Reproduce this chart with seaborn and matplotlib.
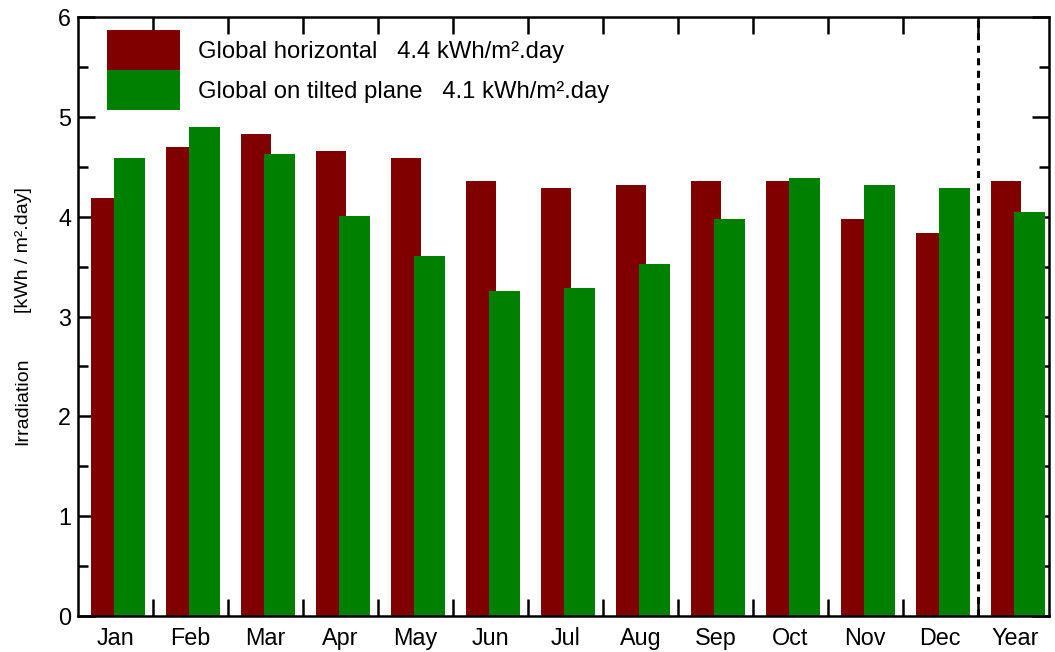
import numpy as np
import matplotlib
matplotlib.use("Agg")
import matplotlib.pyplot as plt
import seaborn as sns
from matplotlib.ticker import MultipleLocator, FixedLocator

# monthly irradiation values, kWh/m².day
months = ["Jan", "Feb", "Mar", "Apr", "May", "Jun", "Jul", "Aug",
          "Sep", "Oct", "Nov", "Dec", "Year"]
global_horizontal = [4.19, 4.70, 4.83, 4.66, 4.59, 4.36, 4.29, 4.32,
                     4.36, 4.36, 3.98, 3.84, 4.36]
global_tilted = [4.59, 4.90, 4.63, 4.01, 3.61, 3.26, 3.29, 3.53,
                 3.98, 4.39, 4.32, 4.29, 4.05]
legend_labels = ["Global horizontal   4.4 kWh/m².day",
                 "Global on tilted plane   4.1 kWh/m².day"]

red = "#800000"
green = "#008000"

sns.set_style("ticks")
plt.rcParams["font.family"] = ["Liberation Sans", "DejaVu Sans"]
plt.rcParams["text.color"] = "black"
plt.rcParams["xtick.color"] = "black"
plt.rcParams["ytick.color"] = "black"

fig = plt.figure(figsize=(10.55, 6.52), dpi=100)
ax = fig.add_axes([0.0739, 0.0552, 0.9204, 0.9187])

idx = np.arange(len(months))
sns.barplot(x=idx - 0.125, y=global_horizontal, native_scale=True,
            width=0.41, color=red, saturation=1, errorbar=None,
            linewidth=0, label=legend_labels[0], ax=ax)
sns.barplot(x=idx + 0.19, y=global_tilted, native_scale=True,
            width=0.41, color=green, saturation=1, errorbar=None,
            linewidth=0, label=legend_labels[1], ax=ax)

# separator between months and the yearly value
ax.axvline(11.5, color="black", lw=2.2, ls=(0, (2.3, 1.8)))

ax.set_xlim(-0.5, 12.45)
ax.set_ylim(0, 6)

ax.xaxis.set_major_locator(FixedLocator(idx))
ax.set_xticklabels(months)
ax.xaxis.set_minor_locator(FixedLocator(idx[:-1] + 0.5))
ax.yaxis.set_major_locator(MultipleLocator(1))
ax.yaxis.set_minor_locator(MultipleLocator(0.5))

ax.tick_params(axis="x", which="major", length=0, pad=8, labelsize=16.8)
ax.tick_params(axis="x", which="minor", direction="in", length=12.5,
               width=1.8, top=True, bottom=True)
ax.tick_params(axis="y", which="major", direction="in", length=12.5,
               width=1.8, left=True, right=True, pad=5, labelsize=16.8)
ax.tick_params(axis="y", which="minor", direction="in", length=7,
               width=1.8, left=True, right=True)

for s in ax.spines.values():
    s.set_visible(True)
    s.set_linewidth(1.8)
    s.set_color("black")

ax.set_xlabel("")
ax.set_ylabel("")
fig.text(0.022, (652 - 401) / 652, "Irradiation", rotation=90,
         ha="center", va="center", fontsize=14)
fig.text(0.022, (652 - 250) / 652, "[kWh / m².day]", rotation=90,
         ha="center", va="center", fontsize=14)

ax.legend(loc="upper left", bbox_to_anchor=(0.030, 0.978), frameon=False,
          fontsize=17.2, handlelength=3.05, handleheight=2.2,
          labelspacing=0, handletextpad=0.75, borderpad=0, borderaxespad=0)

fig.savefig("out.png", dpi=100)
